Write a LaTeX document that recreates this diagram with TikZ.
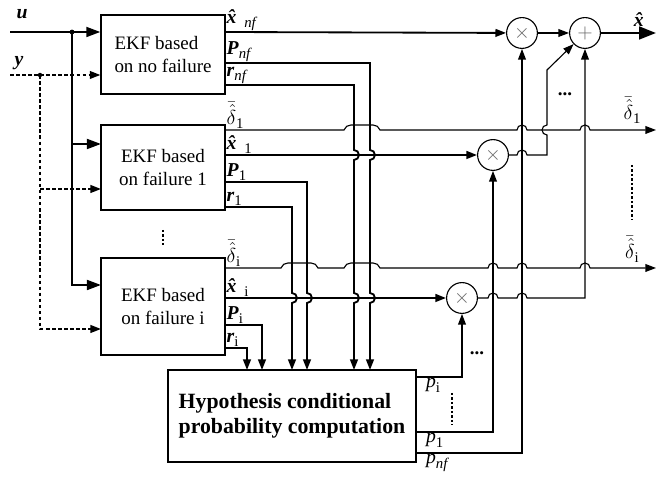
\documentclass[tikz,border=0pt]{standalone}
\usepackage{fontspec}
\setmainfont{Liberation Serif}
\usetikzlibrary{arrows.meta,positioning}

\newcommand{\bxh}{\textbf{\textit{\^{x}}}}
\newcommand{\bP}{\textbf{\textit{P}}}
\newcommand{\bfr}{\textbf{\textit{r}}}
\newcommand{\sbs}[1]{\raisebox{-0.45ex}{\fontsize{10.5}{11}\selectfont #1}}
\newcommand{\dlt}[1]{$\bar{\hat{\delta}}$\sbs{#1}}
% crossing pieces (horizontal hop, wide hop, vertical bumps)
\newcommand{\hop}[2]{-- (#1-5,#2) arc[start angle=180,end angle=0,radius=5]}
\newcommand{\bighop}[3]{-- (#1,#3) to[out=70,in=180] (#1+7,#3+5) -- (#2-7,#3+5) to[out=0,in=110] (#2,#3)}
\newcommand{\rbump}[2]{-- (#1,#2+5) arc[start angle=90,end angle=-90,radius=5]}
\newcommand{\lbump}[2]{-- (#1,#2-5) arc[start angle=-90,end angle=-270,radius=5]}

\begin{document}
\begin{tikzpicture}[
    x=0.025cm, y=0.025cm,
    ekf/.style={draw, rectangle, minimum width=3.1cm, line width=0.9pt, font=\fontsize{13.5}{16.5}\selectfont},
    hypbox/.style={draw, rectangle, minimum width=6.2cm, minimum height=2.3cm, align=left, line width=0.9pt, font=\fontsize{15.5}{18}\selectfont\bfseries},
    mult/.style={draw, circle, minimum size=0.77cm, inner sep=0pt, line width=0.8pt, text=black!60, font=\Large},
    wire/.style={line width=0.8pt},
    bus/.style={line width=1.3pt},
    feed/.style={line width=1.6pt},
    dwire/.style={line width=1.2pt, dash pattern=on 2.5pt off 1.8pt},
    arr/.style={-{Triangle[length=7.5pt,width=5.5pt]}},
    bigarr/.style={-{Triangle[length=10pt,width=7pt]}},
    lbl/.style={inner sep=1pt, font=\fontsize{14}{15}\selectfont},
    vdotline/.style={line width=1.6pt, dash pattern=on 1.6pt off 1.6pt}
]
    \useasboundingbox (0,0) rectangle (660,477);

    % Filters
    \node[ekf, minimum height=1.975cm, align=left] (nf) at (163,422.5) {EKF based\\on no failure};
    \node[ekf, minimum height=2.125cm, align=center] (f1) at (163,309.5) {EKF based\\on failure 1};
    \node[ekf, minimum height=2.425cm, align=center] (fi) at (163,170.5) {EKF based\\on failure i};
    \draw[vdotline] (163,247) -- (163,232);
    \node[hypbox] (hyp) at (292,61) {Hypothesis conditional\\probability computation};

    % Multipliers and sum
    \node[mult] (m1) at (522,444) {$\times$};
    \node[mult] (add) at (585,444) {$+$};
    \node[mult] (m2) at (493,322) {$\times$};
    \node[mult] (m3) at (462,179) {$\times$};

    % Inputs
    \coordinate (uin) at (10,445);
    \coordinate (uj) at (72,445);
    \coordinate (yin) at (10,402);
    \coordinate (yj) at (40,402);
    \coordinate (f1u) at (101,333);
    \coordinate (fiu) at (101,192);
    \coordinate (f1y) at (101,288);
    \coordinate (fiy) at (101,148);
    \node[lbl, font=\fontsize{14}{15}\selectfont\bfseries\itshape] (ulbl) at (22,463) {u};
    \node[lbl, font=\fontsize{14}{15}\selectfont\bfseries\itshape] (ylbl) at (19,414) {y};

    \draw[feed,bigarr] (uin) -- (nf.west |- uin);
    \draw[feed,bigarr] (uj) |- (fiu);
    \draw[feed,bigarr] (uj |- f1u) -- (f1u);
    \fill (uj) circle[radius=2.4];
    \draw[dwire,arr] (yin) -- (nf.west |- yin);
    \draw[dwire,arr] (yj) |- (fiy);
    \draw[dwire,arr] (yj |- f1y) -- (f1y);
    \fill (yj) circle[radius=2.2];

    % Output ports
    \coordinate (nfx) at (225,445);
    \coordinate (nfP) at (225,414);
    \coordinate (nfr) at (225,392);
    \coordinate (f1d) at (225,347);
    \coordinate (f1x) at (225,322);
    \coordinate (f1P) at (225,295);
    \coordinate (f1r) at (225,270);
    \coordinate (fid) at (225,209);
    \coordinate (fix) at (225,179);
    \coordinate (fiP) at (225,152);
    \coordinate (fir) at (225,129);
    \node[lbl, anchor=south west] (Lxnf) at (nfx) {\bxh\,\sbs{\textit{nf}}};
    \node[lbl, anchor=south west] (LPnf) at (nfP) {\bP\sbs{\textit{nf}}};
    \node[lbl, anchor=south west] (Lrnf) at (nfr) {\bfr\sbs{\textit{nf}}};
    \node[lbl, anchor=south west] (Ld1) at (f1d) {\dlt{1}};
    \node[lbl, anchor=south west] (Lx1) at (f1x) {\bxh\,\sbs{1}};
    \node[lbl, anchor=south west] (LP1) at (f1P) {\bP\sbs{1}};
    \node[lbl, anchor=south west] (Lr1) at (f1r) {\bfr\sbs{1}};
    \node[lbl, anchor=south west] (Ldi) at (fid) {\dlt{i}};
    \node[lbl, anchor=south west] (Lxi) at (fix) {\bxh\,\sbs{i}};
    \node[lbl, anchor=south west] (LPi) at (fiP) {\bP\sbs{i}};
    \node[lbl, anchor=south west] (Lri) at (fir) {\bfr\sbs{i}};

    % Inputs of the probability block
    \coordinate (hPnf) at (370,107);
    \coordinate (hrnf) at (354,107);
    \coordinate (hP1) at (307,107);
    \coordinate (hr1) at (292,107);
    \coordinate (hPi) at (262,107);
    \coordinate (hri) at (247,107);

    \draw[bus,arr] (nfx) -- (m1);
    \draw[bus,arr] (nfP) -- (370,414) \rbump{370}{322} \rbump{370}{179} -- (hPnf);
    \draw[bus,arr] (nfr) -- (354,392) \rbump{354}{322} \rbump{354}{179} -- (hrnf);

    \draw[bus,arr] (f1x) -- (m2);
    \draw[bus,arr] (f1P) -- (307,295) \rbump{307}{179} -- (hP1);
    \draw[bus,arr] (f1r) -- (292,270) \rbump{292}{179} -- (hr1);

    \draw[bus,arr] (fix) -- (m3);
    \draw[bus,arr] (fiP) -| (hPi);
    \draw[bus,arr] (fir) -| (hri);

    % Fault estimates
    \coordinate (d1out) at (656,347);
    \coordinate (diout) at (656,209);
    \draw[wire,arr] (f1d) \bighop{344}{380}{347} \hop{522}{347} \hop{585}{347} -- (d1out);
    \draw[wire,arr] (fid) \bighop{281}{318}{209} \bighop{344}{380}{209} \hop{493}{209} \hop{522}{209} \hop{585}{209} -- (diout);
    \node[lbl, anchor=south] (Rd1) at (632,352) {\dlt{1}};
    \node[lbl, anchor=south] (Rdi) at (632,213) {\dlt{i}};
    \draw[vdotline] (632,312) -- (632,257);

    % Probabilities
    \coordinate (hpi) at (416,100);
    \coordinate (hp1) at (416,45);
    \coordinate (hpnf) at (416,24);
    \draw[wire,arr] (hpi) -| (m3);
    \draw[wire,arr] (hp1) -| (m2);
    \draw[wire,arr] (hpnf) -| (m1);
    \node[lbl, anchor=north west, xshift=6pt] (Lpi) at (hpi) {\textit{p}\sbs{i}};
    \node[lbl, anchor=north west, xshift=6pt] (Lp1) at (hp1) {\textit{p}\sbs{1}};
    \node[lbl, anchor=north west, xshift=6pt] (Lpnf) at (hpnf) {\textit{p}\sbs{\textit{nf}}};
    \draw[vdotline] (452,84) -- (452,52);
    \node[lbl, font=\fontsize{13.5}{15}\selectfont\bfseries] (pdots) at (477,124) {...};

    % Weighted sum
    \coordinate (xout) at (656,444);
    \draw[wire,arr] (m3.east) \hop{493}{179} \hop{522}{179} -- (585,179) -- (add);
    \draw[wire,arr] (m2.east) \hop{522}{322} -- (547,322) \lbump{547}{347} -- (547,407) -- (add);
    \draw[wire,arr] (m1) -- (add);
    \node[lbl, font=\fontsize{13.5}{15}\selectfont\bfseries] (sdots) at (565,383) {...};
    \draw[line width=1.8pt, -{Triangle[length=12pt,width=9pt]}] (add) -- (xout);
    \node[lbl, anchor=south] (Lx) at (641,449) {\bxh};
\end{tikzpicture}
\end{document}
